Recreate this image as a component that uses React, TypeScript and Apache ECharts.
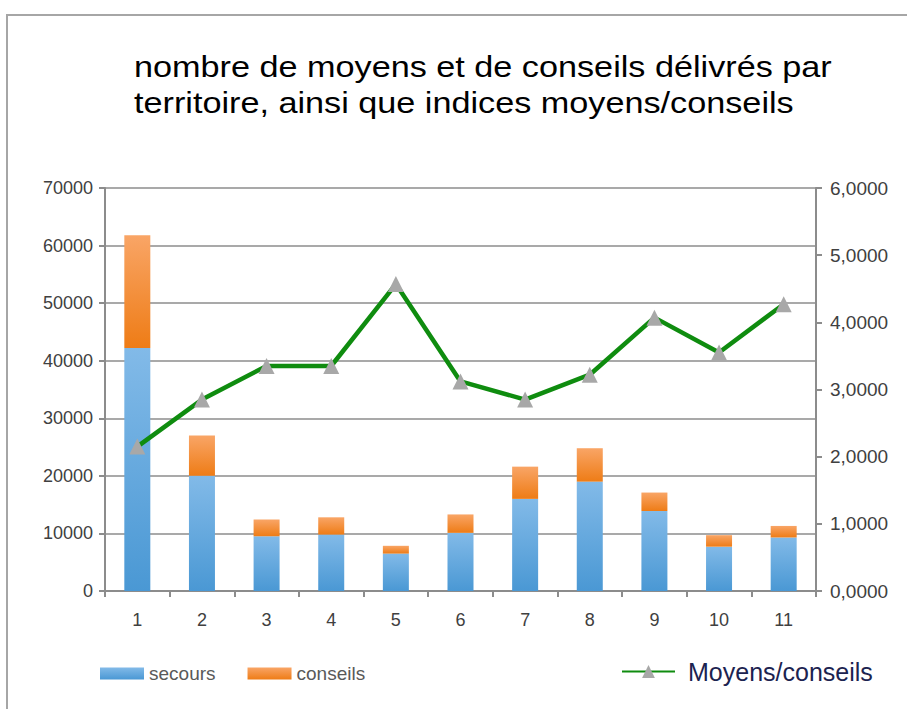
import React, { useEffect, useRef } from "react";
import * as echarts from "echarts";

const categories = ["1", "2", "3", "4", "5", "6", "7", "8", "9", "10", "11"];
const secours = [42200, 20000, 9500, 9800, 6500, 10100, 16000, 19000, 13900, 7700, 9300];
const conseils = [19600, 7000, 2900, 3000, 1350, 3200, 5600, 5800, 3200, 2000, 2000];
const moyensConseils = [2.15, 2.85, 3.35, 3.35, 4.57, 3.12, 2.85, 3.22, 4.07, 3.55, 4.27];
const titleLines = [
  "nombre de moyens et de conseils délivrés par",
  "territoire, ainsi que indices moyens/conseils",
];

const FONT = '"Liberation Sans", Arial, sans-serif';

export default function App() {
  const ref = useRef<HTMLDivElement>(null);
  useEffect(() => {
    document.body.style.margin = "0";
    const chart = echarts.init(ref.current!, undefined, { renderer: "svg" });
    const blue = new echarts.graphic.LinearGradient(0, 0, 0, 1, [
      { offset: 0, color: "#82bae8" },
      { offset: 1, color: "#4a98d4" },
    ]);
    const orange = new echarts.graphic.LinearGradient(0, 0, 0, 1, [
      { offset: 0, color: "#f9a566" },
      { offset: 1, color: "#ee7c16" },
    ]);
    chart.setOption({
      animation: false,
      backgroundColor: "#ffffff",
      textStyle: { fontFamily: FONT },
      graphic: [
        {
          type: "rect",
          z: -10,
          shape: { x: 7, y: 15, width: 1000, height: 900 },
          style: { fill: "none", stroke: "#a6a6a6", lineWidth: 2 },
        },
        {
          type: "text",
          x: 134,
          y: 49,
          scaleX: 1.18,
          style: {
            text: titleLines.join("\n"),
            font: `29px ${FONT}`,
            fill: "#000000",
            lineHeight: 36,
            verticalAlign: "top",
            align: "left",
          },
        },
      ],
      legend: [
        {
          data: ["secours", "conseils"],
          left: 100,
          top: 664,
          padding: 0,
          itemWidth: 44,
          itemHeight: 12,
          itemGap: 32,
          icon: "rect",
          textStyle: { fontSize: 19, color: "#595959", fontFamily: FONT },
        },
        {
          data: ["Moyens/conseils"],
          left: 621,
          top: 659,
          padding: 0,
          itemWidth: 53,
          itemHeight: 16,
          textStyle: { fontSize: 25, color: "#1c2350", fontFamily: FONT, padding: [0, 0, 0, 8] },
        },
      ],
      grid: { left: 105, right: 91, top: 188, bottom: 118 },
      xAxis: {
        type: "category",
        data: categories,
        axisLine: { lineStyle: { color: "#8c8c8c", width: 2 } },
        axisTick: { show: true, length: 6, lineStyle: { color: "#8c8c8c", width: 2 } },
        axisLabel: { color: "#404040", fontSize: 18, margin: 20 },
      },
      yAxis: [
        {
          type: "value",
          min: 0,
          max: 70000,
          interval: 10000,
          axisLine: { show: true, lineStyle: { color: "#8c8c8c", width: 2 } },
          axisTick: { show: true, length: 6, lineStyle: { color: "#8c8c8c", width: 2 } },
          axisLabel: { color: "#404040", fontSize: 18, margin: 12, formatter: (v: number) => String(v) },
          splitLine: { lineStyle: { color: "#8c8c8c", width: 1.5 } },
        },
        {
          type: "value",
          min: 0,
          max: 6,
          interval: 1,
          position: "right",
          axisLine: { show: true, lineStyle: { color: "#8c8c8c", width: 2 } },
          axisTick: { show: true, length: 6, lineStyle: { color: "#8c8c8c", width: 2 } },
          axisLabel: {
            color: "#404040",
            fontSize: 19,
            margin: 14,
            formatter: (v: number) => v.toFixed(4).replace(".", ","),
          },
          splitLine: { show: false },
        },
      ],
      series: [
        {
          name: "secours",
          type: "bar",
          stack: "total",
          barWidth: 26,
          data: secours,
          itemStyle: { color: blue },
        },
        {
          name: "conseils",
          type: "bar",
          stack: "total",
          barWidth: 26,
          data: conseils,
          itemStyle: { color: orange },
        },
        {
          name: "Moyens/conseils",
          type: "line",
          yAxisIndex: 1,
          data: moyensConseils,
          symbol: "triangle",
          symbolSize: 16,
          lineStyle: { color: "#0f8c0f", width: 4.5 },
          itemStyle: { color: "#a8a8a8" },
          z: 5,
        },
      ],
    });
    return () => chart.dispose();
  }, []);
  return <div ref={ref} style={{ width: 907, height: 709 }} />;
}
